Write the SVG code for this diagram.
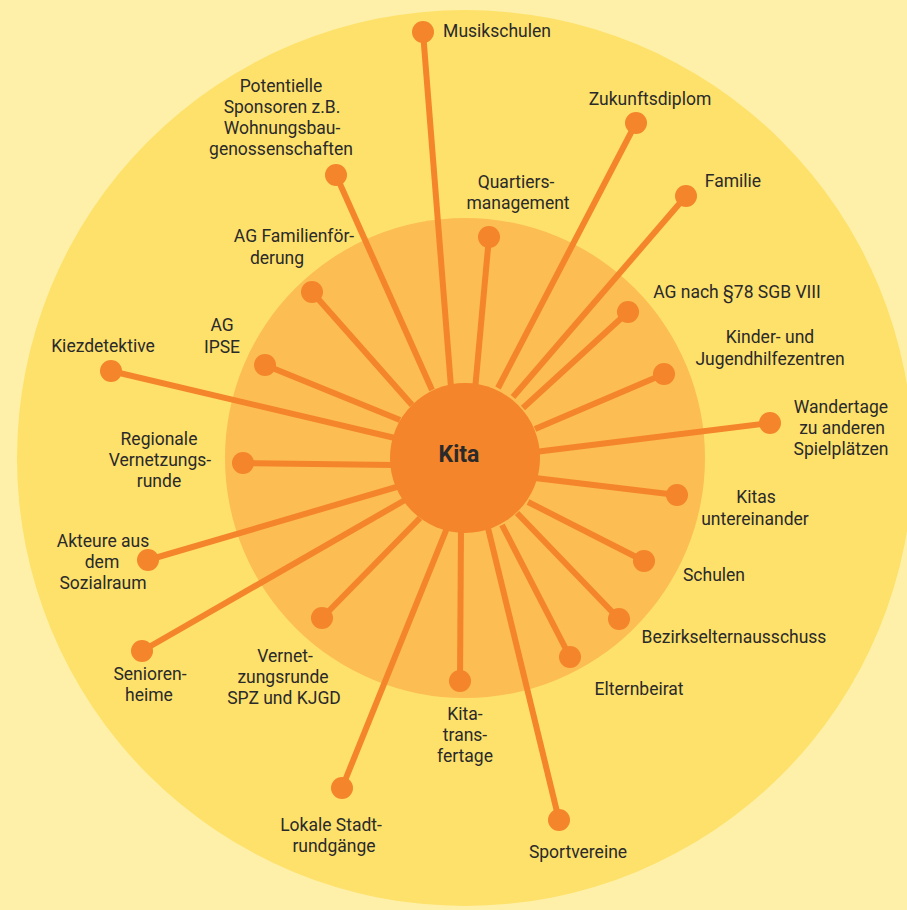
<svg xmlns="http://www.w3.org/2000/svg" width="907" height="910" viewBox="0 0 907 910">
<style>
.lbl{font-family:Roboto,"Liberation Sans",sans-serif;font-size:17.5px;fill:#2a2a2a;text-anchor:middle}
.dot{fill:#f4852a}
.ln{stroke:#f4852a;stroke-width:6;fill:none}
</style>
<rect width="907" height="910" fill="#fef0a8"/>
<circle cx="465" cy="458" r="448" fill="#fee16b"/>
<circle cx="465" cy="458" r="240" fill="#fcbd52"/>
<g id="connectors" class="ln">
<line x1="423" y1="32" x2="452" y2="400"/>
<line x1="636" y1="123" x2="498" y2="388"/>
<line x1="686" y1="196" x2="513" y2="397"/>
<line x1="489" y1="237" x2="475" y2="390"/>
<line x1="336" y1="175" x2="432" y2="390"/>
<line x1="312" y1="292" x2="412" y2="405"/>
<line x1="265" y1="365" x2="400" y2="420"/>
<line x1="111" y1="371" x2="395" y2="438"/>
<line x1="243" y1="463" x2="395" y2="465"/>
<line x1="148" y1="560" x2="400" y2="486"/>
<line x1="142" y1="651" x2="405" y2="500"/>
<line x1="322" y1="618" x2="420" y2="518"/>
<line x1="342" y1="788" x2="447" y2="528"/>
<line x1="460" y1="681" x2="461" y2="528"/>
<line x1="559" y1="820" x2="488" y2="528"/>
<line x1="570" y1="657" x2="502" y2="525"/>
<line x1="619" y1="619" x2="517" y2="513"/>
<line x1="644" y1="561" x2="528" y2="502"/>
<line x1="677" y1="495" x2="535" y2="478"/>
<line x1="770" y1="423" x2="535" y2="452"/>
<line x1="664" y1="374" x2="535" y2="429"/>
<line x1="628" y1="312" x2="523" y2="408"/>
</g>
<g id="kita"><circle cx="465" cy="458" r="75" fill="#f4852a"/><text x="459" y="462" style="font-family:Roboto,'Liberation Sans',sans-serif;font-size:23px;font-weight:bold;fill:#2a2a2a;text-anchor:middle">Kita</text></g>
<g id="musikschulen"><circle class="dot" cx="423" cy="32" r="11"/><text class="lbl" x="497" y="37">Musikschulen</text></g>
<g id="zukunftsdiplom"><circle class="dot" cx="636" cy="123" r="11"/><text class="lbl" x="650" y="105">Zukunftsdiplom</text></g>
<g id="familie"><circle class="dot" cx="686" cy="196" r="11"/><text class="lbl" x="733" y="187">Familie</text></g>
<g id="quartiersmanagement"><circle class="dot" cx="489" cy="237" r="11"/><text class="lbl" x="516" y="188">Quartiers-</text><text class="lbl" x="518" y="209">management</text></g>
<g id="sponsoren"><circle class="dot" cx="336" cy="175" r="11"/><text class="lbl" x="281" y="92">Potentielle</text><text class="lbl" x="282" y="113">Sponsoren z.B.</text><text class="lbl" x="282" y="134">Wohnungsbau-</text><text class="lbl" x="281" y="155">genossenschaften</text></g>
<g id="ag-familienfoerderung"><circle class="dot" cx="312" cy="292" r="11"/><text class="lbl" x="294" y="242">AG Familienför-</text><text class="lbl" x="277" y="264">derung</text></g>
<g id="ag-ipse"><circle class="dot" cx="265" cy="365" r="11"/><text class="lbl" x="222" y="331">AG</text><text class="lbl" x="222" y="353">IPSE</text></g>
<g id="kiezdetektive"><circle class="dot" cx="111" cy="371" r="11"/><text class="lbl" x="103" y="352">Kiezdetektive</text></g>
<g id="regionale"><circle class="dot" cx="243" cy="463" r="11"/><text class="lbl" x="159" y="445">Regionale</text><text class="lbl" x="160" y="466">Vernetzungs-</text><text class="lbl" x="159" y="487">runde</text></g>
<g id="akteure"><circle class="dot" cx="148" cy="560" r="11"/><text class="lbl" x="103" y="547">Akteure aus</text><text class="lbl" x="102" y="568">dem</text><text class="lbl" x="103" y="589">Sozialraum</text></g>
<g id="seniorenheime"><circle class="dot" cx="142" cy="651" r="11"/><text class="lbl" x="150" y="680">Senioren-</text><text class="lbl" x="149" y="701">heime</text></g>
<g id="vernetzungsrunde-spz"><circle class="dot" cx="322" cy="618" r="11"/><text class="lbl" x="285" y="662">Vernet-</text><text class="lbl" x="283" y="683">zungsrunde</text><text class="lbl" x="284" y="704">SPZ und KJGD</text></g>
<g id="stadtrundgaenge"><circle class="dot" cx="342" cy="788" r="11"/><text class="lbl" x="331" y="831">Lokale Stadt-</text><text class="lbl" x="334" y="852">rundgänge</text></g>
<g id="kitatransfertage"><circle class="dot" cx="460" cy="681" r="11"/><text class="lbl" x="465" y="720">Kita-</text><text class="lbl" x="465" y="741">trans-</text><text class="lbl" x="465" y="762">fertage</text></g>
<g id="sportvereine"><circle class="dot" cx="559" cy="820" r="11"/><text class="lbl" x="578" y="858">Sportvereine</text></g>
<g id="elternbeirat"><circle class="dot" cx="570" cy="657" r="11"/><text class="lbl" x="639" y="695">Elternbeirat</text></g>
<g id="bezirkselternausschuss"><circle class="dot" cx="619" cy="619" r="11"/><text class="lbl" x="734" y="643">Bezirkselternausschuss</text></g>
<g id="schulen"><circle class="dot" cx="644" cy="561" r="11"/><text class="lbl" x="714" y="581">Schulen</text></g>
<g id="kitas-untereinander"><circle class="dot" cx="677" cy="495" r="11"/><text class="lbl" x="756" y="503">Kitas</text><text class="lbl" x="755" y="525">untereinander</text></g>
<g id="wandertage"><circle class="dot" cx="770" cy="423" r="11"/><text class="lbl" x="841" y="413">Wandertage</text><text class="lbl" x="842" y="434">zu anderen</text><text class="lbl" x="841" y="455">Spielplätzen</text></g>
<g id="jugendhilfezentren"><circle class="dot" cx="664" cy="374" r="11"/><text class="lbl" x="770" y="343">Kinder- und</text><text class="lbl" x="770" y="365">Jugendhilfezentren</text></g>
<g id="ag-78"><circle class="dot" cx="628" cy="312" r="11"/><text class="lbl" x="737" y="298">AG nach §78 SGB VIII</text></g>
</svg>
